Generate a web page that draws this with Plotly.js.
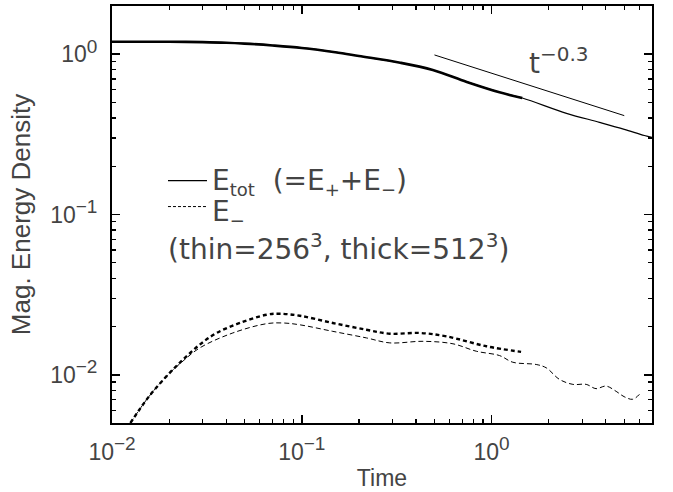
<!DOCTYPE html>
<html>
<head>
<meta charset="utf-8">
<script src="https://cdn.plot.ly/plotly-3.0.1.min.js"></script>
<style>html,body{margin:0;padding:0;background:#fff;}#chart{width:673px;height:492px;}</style>
</head>
<body>
<div id="chart"></div>
<script>
// ---- data ----
// total magnetic energy, 256^3 (thin solid)
var totThinT = [0.01, 0.015, 0.02, 0.03, 0.04, 0.05, 0.07, 0.1, 0.15, 0.2, 0.33, 0.49, 0.74, 1.1, 1.45, 2.48, 3.7, 5.0, 6.38, 7.0];
var totThinE = [1.197, 1.197, 1.196, 1.19, 1.18, 1.165, 1.135, 1.095, 1.03, 0.975, 0.885, 0.797, 0.672, 0.579, 0.533, 0.428, 0.376, 0.34, 0.311, 0.303];
// total magnetic energy, 512^3 (thick solid)
var totThickT = [0.01, 0.015, 0.02, 0.03, 0.04, 0.05, 0.07, 0.1, 0.15, 0.2, 0.33, 0.49, 0.74, 1.1, 1.45];
var totThickE = [1.197, 1.197, 1.196, 1.19, 1.18, 1.165, 1.135, 1.095, 1.03, 0.975, 0.885, 0.797, 0.672, 0.579, 0.533];
// E_- , 512^3 (thick dashed)
var emThickT = [0.0125, 0.0155, 0.0194, 0.0237, 0.029, 0.0356, 0.0472, 0.0652, 0.0766, 0.0976, 0.1456, 0.219, 0.291, 0.418, 0.578, 0.938, 1.43];
var emThickE = [0.0050, 0.0072, 0.0098, 0.01245, 0.01542, 0.01823, 0.02104, 0.0237, 0.02404, 0.02335, 0.02104, 0.0191, 0.01803, 0.01823, 0.01737, 0.01506, 0.0139];
// E_- , 256^3 (thin dashed)
var emThinT = [0.0125, 0.0155, 0.0194, 0.0237, 0.029, 0.0433, 0.0652, 0.0798, 0.0976, 0.1456, 0.219, 0.291, 0.435, 0.626, 0.831, 1.10, 1.294, 1.718, 1.94, 2.28, 2.68, 3.15, 3.55, 4.01, 4.53, 4.99, 5.54, 6.01];
var emThinE = [0.0050, 0.0072, 0.0098, 0.0122, 0.01471, 0.01823, 0.02083, 0.02104, 0.0205, 0.01866, 0.01698, 0.01581, 0.01617, 0.0156, 0.01402, 0.01318, 0.01197, 0.01159, 0.01105, 0.00935, 0.00871, 0.00871, 0.00819, 0.0085, 0.00788, 0.0073, 0.00703, 0.00755];
// t^-0.3 guide line
var refT = [0.5, 5.0];
var refE = [0.99, 0.414];

var tickVals = [0.01, 0.1, 1];
var tickExps = ['\u22122', '\u22121', '0'];

var FONT = 'Liberation Sans, Arial, sans-serif';
var LFONT = 'DejaVu Sans, Liberation Sans, sans-serif';
var TXT = '#444';

function powLabels(exps) {
  return exps.map(function (e) {
    return '10<sup><span style="font-size:19px">' + e + '</span></sup>';
  });
}
function minorVals(lo, hi) {
  var v = [];
  for (var d = lo; d <= hi; d++) {
    for (var m = 2; m <= 9; m++) v.push(m * Math.pow(10, d));
  }
  return v;
}

var traces = [
  {x: totThinT, y: totThinE, mode: 'lines', line: {color: '#000', width: 1.2, shape: 'spline'}, hoverinfo: 'skip'},
  {x: totThickT, y: totThickE, mode: 'lines', line: {color: '#000', width: 2.6, shape: 'spline'}, hoverinfo: 'skip'},
  {x: emThinT, y: emThinE, mode: 'lines', line: {color: '#000', width: 1, dash: '5px,3px', shape: 'spline'}, hoverinfo: 'skip'},
  {x: emThickT, y: emThickE, mode: 'lines', line: {color: '#000', width: 2.4, dash: '4px,3px', shape: 'spline'}, hoverinfo: 'skip'},
  {x: refT, y: refE, mode: 'lines', line: {color: '#000', width: 1}, hoverinfo: 'skip'}
];

var axisCommon = {
  type: 'log',
  showgrid: false,
  zeroline: false,
  showline: true,
  linecolor: '#000',
  linewidth: 2,
  mirror: 'ticks',
  ticks: 'inside',
  ticklen: 8,
  tickwidth: 1.5,
  tickcolor: '#000',
  tickmode: 'array',
  tickvals: tickVals,
  ticktext: powLabels(tickExps),
  tickfont: {family: FONT, size: 23, color: TXT}
};

var layout = {
  width: 673,
  height: 492,
  margin: {l: 112, r: 21, t: 6, b: 69},
  paper_bgcolor: '#fff',
  plot_bgcolor: '#fff',
  showlegend: false,
  font: {family: FONT, color: TXT},
  xaxis: Object.assign({}, axisCommon, {
    range: [-2, Math.log10(7)],
    minor: {tickmode: 'array', tickvals: minorVals(-2, 0), ticks: 'inside', ticklen: 4, tickwidth: 1.2, tickcolor: '#000'},
    ticklabelstandoff: 7,
    title: {text: 'Time', font: {family: FONT, size: 23, color: TXT}, standoff: 6}
  }),
  yaxis: Object.assign({}, axisCommon, {
    range: [Math.log10(0.005), Math.log10(2)],
    minor: {tickmode: 'array', tickvals: minorVals(-3, 0), ticks: 'inside', ticklen: 4, tickwidth: 1.2, tickcolor: '#000'},
    ticklabelstandoff: 8,
    title: {text: 'Mag. Energy Density', font: {family: FONT, size: 26, color: TXT}, standoff: 12}
  }),
  shapes: [
    {type: 'line', xref: 'paper', yref: 'paper', x0: 0.1037, x1: 0.1759, y0: 0.581, y1: 0.581, line: {color: '#000', width: 1.2}},
    {type: 'line', xref: 'paper', yref: 'paper', x0: 0.1037, x1: 0.1759, y0: 0.519, y1: 0.519, line: {color: '#000', width: 1, dash: '3px,2px'}}
  ],
  annotations: [
    {xref: 'paper', yref: 'paper', x: 0.181, y: 0.577, xanchor: 'left', yanchor: 'middle', showarrow: false,
     text: 'E<sub><span style="font-size:18px">tot</span></sub>  (=E<sub><span style="font-size:18px">+</span></sub>+E<sub><span style="font-size:18px">\u2212</span></sub>)',
     font: {family: LFONT, size: 28, color: TXT}},
    {xref: 'paper', yref: 'paper', x: 0.181, y: 0.504, xanchor: 'left', yanchor: 'middle', showarrow: false,
     text: 'E<sub><span style="font-size:18px">\u2212</span></sub>', font: {family: LFONT, size: 28, color: TXT}},
    {xref: 'paper', yref: 'paper', x: 0.1, y: 0.423, xanchor: 'left', yanchor: 'middle', showarrow: false,
     text: '(thin=256<sup><span style="font-size:20px">3</span></sup>, thick=512<sup><span style="font-size:20px">3</span></sup>)',
     font: {family: LFONT, size: 28, color: TXT}},
    {xref: 'paper', yref: 'paper', x: 0.768, y: 0.867, xanchor: 'left', yanchor: 'middle', showarrow: false,
     text: 't<sup><span style="font-size:20px">\u22120.3</span></sup>', font: {family: LFONT, size: 28, color: TXT}}
  ]
};

Plotly.newPlot('chart', traces, layout, {staticPlot: true, displayModeBar: false});
</script>
</body>
</html>
